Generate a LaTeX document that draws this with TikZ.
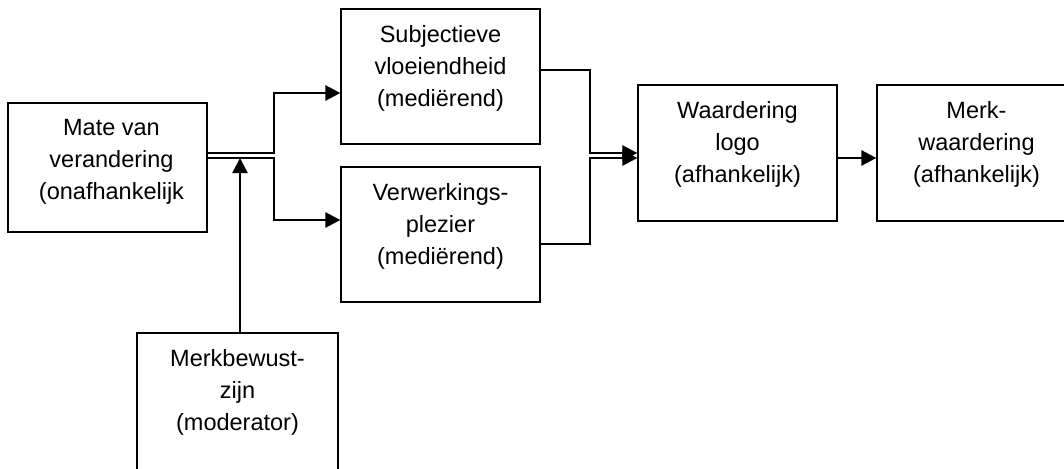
\documentclass[tikz,border=0pt]{standalone}
\usepackage{fontspec}
\setmainfont{Liberation Sans}
\usetikzlibrary{positioning,arrows.meta}

\begin{document}
\begin{tikzpicture}[x=1pt, y=-1pt]
    % Define block styles
    \tikzstyle{block} = [rectangle, draw, line width=1.2pt,
        minimum width=199pt, minimum height=135pt, inner sep=0pt]
    \tikzstyle{caption} = [align=center, inner sep=0pt,
        font=\fontsize{23.5}{32}\selectfont]
    \tikzstyle{line} = [draw, line width=2.5pt,
        -{Triangle[length=15pt, width=15pt]}]

    \useasboundingbox (0,0) rectangle (1064,468);

    % Boxes
    \node [block, minimum height=129pt] (mate) at (107.5,167.5) {};
    \node [block] (subjectief) at (440.5,76.5) {};
    \node [block] (plezier) at (440.5,234.5) {};
    \node [block, minimum height=136pt] (logo) at (737.5,153) {};
    \node [block, minimum height=136pt] (merk) at (976.5,153) {};
    \node [block, minimum width=201pt, minimum height=142pt] (bewust) at (237.5,404) {};

    % Box texts
    \node [caption, below=17pt of mate.north, xshift=4pt] (mateText)
        {Mate van\\verandering\\(onafhankelijk};
    \node [caption, below=17pt of subjectief.north] (subjectiefText)
        {Subjectieve\\vloeiendheid\\(mediërend)};
    \node [caption, below=17pt of plezier.north] (plezierText)
        {Verwerkings-\\plezier\\(mediërend)};
    \node [caption, below=17pt of logo.north] (logoText)
        {Waardering\\logo\\(afhankelijk)};
    \node [caption, below=17pt of merk.north] (merkText)
        {Merk-\\waardering\\(afhankelijk)};
    \node [caption, below=17pt of bewust.north] (bewustText)
        {Merkbewust-\\zijn\\(moderator)};

    % Junctions
    \coordinate (splitUp) at (274,153);
    \coordinate (splitDown) at (274,158);
    \coordinate (joinUp) at (590,153);
    \coordinate (joinDown) at (590,158);

    % Paths
    \path [line] (mate.east |- splitUp) -- (splitUp) |- ([yshift=-16.5pt]subjectief.west);
    \path [line] (mate.east |- splitDown) -- (splitDown) |- ([yshift=14.5pt]plezier.west);
    \path [line] ([xshift=2.5pt]bewust.north) -- ([xshift=2.5pt]bewust.north |- splitDown);
    \path [line] ([yshift=6.5pt]subjectief.east) -| (joinUp) -- (logo.west |- joinUp);
    \path [line] ([yshift=-9.5pt]plezier.east) -| (joinDown) -- (logo.west |- joinDown);
    \path [line] ([yshift=-5pt]logo.east) -- ([yshift=-5pt]merk.west);

\end{tikzpicture}
\end{document}
